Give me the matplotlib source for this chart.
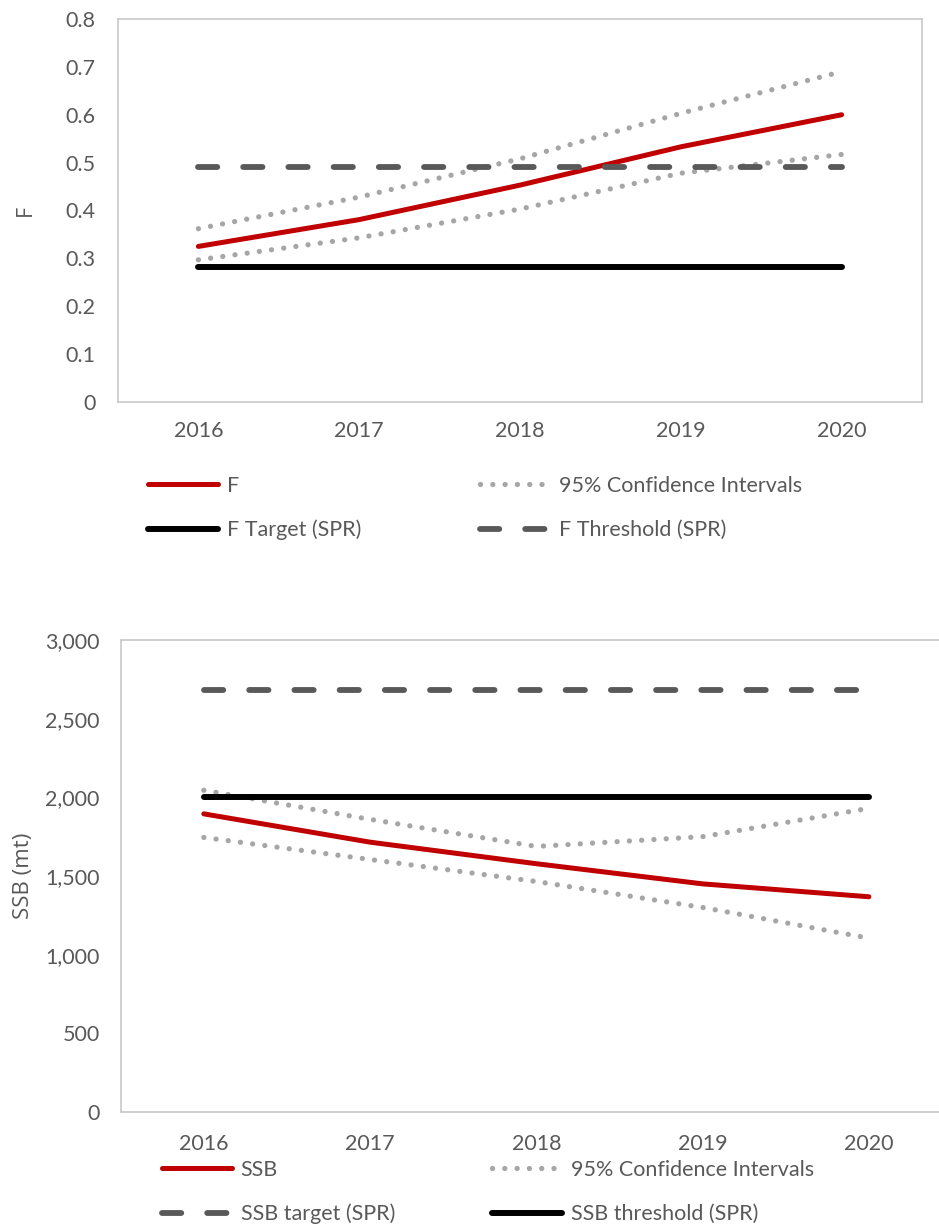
import matplotlib
matplotlib.use('Agg')
import matplotlib.pyplot as plt
from matplotlib.ticker import FuncFormatter

# data
years = [2016, 2017, 2018, 2019, 2020]

f_est = [0.325, 0.381, 0.453, 0.533, 0.600]
f_upper = [0.362, 0.428, 0.508, 0.603, 0.690]
f_lower = [0.297, 0.343, 0.403, 0.478, 0.517]
f_target = [0.282] * 5
f_threshold = [0.490] * 5

ssb_est = [1895, 1715, 1578, 1450, 1368]
ssb_upper = [2045, 1860, 1688, 1750, 1930]
ssb_lower = [1745, 1605, 1465, 1300, 1105]
ssb_target = [2685] * 5
ssb_threshold = [2005] * 5

f_ticks = [0, 0.1, 0.2, 0.3, 0.4, 0.5, 0.6, 0.7, 0.8]
ssb_ticks = [0, 500, 1000, 1500, 2000, 2500, 3000]

RED = '#c00000'
DOT = '#a6a6a6'
DASH = '#595959'
TXT = '#595959'
FRAME = '#c8c8c8'

TICK_FONT = 'Lato'
LABEL_FONT = 'Open Sans'
FS = 15.5
dotted = (0, (0.01, 2.32))
dashed = (0, (3.3, 4.45))

W, H = 939, 1230
fig = plt.figure(figsize=(W / 100, H / 100), dpi=100)


def px_box(left, top, right, bottom):
    # axes rectangle from pixel edges
    return [left / W, 1 - bottom / H, (right - left) / W, (bottom - top) / H]


def style_axes(ax, xpad, ypad):
    for s in ax.spines.values():
        s.set_color(FRAME)
        s.set_linewidth(1.2)
    ax.tick_params(axis='both', length=0, colors=TXT, labelsize=FS)
    ax.tick_params(axis='x', pad=xpad)
    ax.tick_params(axis='y', pad=ypad)
    ax.set_xticks(years)
    for lab in ax.get_xticklabels() + ax.get_yticklabels():
        lab.set_family(TICK_FONT)


def draw(ax, est, up, lo, solid_ref, dash_ref, labels):
    h_est, = ax.plot(years, est, color=RED, lw=3.6, solid_capstyle='round', label=labels[0])
    h_ci, = ax.plot(years, up, color=DOT, lw=3.8, linestyle=dotted, dash_capstyle='round', label=labels[1])
    ax.plot(years, lo, color=DOT, lw=3.8, linestyle=dotted, dash_capstyle='round')
    h_solid, = ax.plot(years, solid_ref, color='black', lw=4.3, solid_capstyle='round', label=labels[2])
    h_dash, = ax.plot(years, dash_ref, color=DASH, lw=4.2, linestyle=dashed, dash_capstyle='round', label=labels[3])
    return h_est, h_ci, h_solid, h_dash


def column_legend(handles, x_px, y_mid_px):
    fig.legend(handles, [h.get_label() for h in handles],
               loc='center left', bbox_to_anchor=(x_px / W, 1 - y_mid_px / H),
               frameon=False, prop={'family': TICK_FONT, 'size': FS}, labelcolor=TXT,
               handlelength=3.25, handletextpad=0.4, labelspacing=1.12,
               borderpad=0, borderaxespad=0)


# --- top panel: F ---
ax1 = fig.add_axes(px_box(118, 19, 922, 402))
h = draw(ax1, f_est, f_upper, f_lower, f_target, f_threshold,
         ['F', '95% Confidence Intervals', 'F Target (SPR)', 'F Threshold (SPR)'])
ax1.set_xlim(2015.5, 2020.5)
ax1.set_ylim(0, 0.8)
ax1.set_yticks(f_ticks)
ax1.yaxis.set_major_formatter(FuncFormatter(lambda v, p: '0' if v == 0 else '%g' % v))
style_axes(ax1, 14, 16)
ax1.set_ylabel('F', color=TXT, fontsize=15.5, family=LABEL_FONT)
ax1.yaxis.set_label_coords((36 - 118) / 804, 0.5)

column_legend([h[0], h[2]], 148, 508)
column_legend([h[1], h[3]], 480, 508)

# --- bottom panel: SSB ---
ax2 = fig.add_axes(px_box(120.7, 640, 952, 1112))
h = draw(ax2, ssb_est, ssb_upper, ssb_lower, ssb_threshold, ssb_target,
         ['SSB', '95% Confidence Intervals', 'SSB threshold (SPR)', 'SSB target (SPR)'])
ax2.set_xlim(2015.5, 2020.5)
ax2.set_ylim(0, 3000)
ax2.set_yticks(ssb_ticks)
ax2.yaxis.set_major_formatter(FuncFormatter(lambda v, p: '{:,.0f}'.format(v)))
style_axes(ax2, 16, 15)
ax2.set_ylabel('SSB (mt)', color=TXT, fontsize=16, family=LABEL_FONT)
ax2.yaxis.set_label_coords((34 - 120.7) / 831, 0.5)

column_legend([h[0], h[3]], 162, 1192)
column_legend([h[1], h[2]], 492, 1192)

fig.savefig('out.png', dpi=100)
plt.close(fig)
